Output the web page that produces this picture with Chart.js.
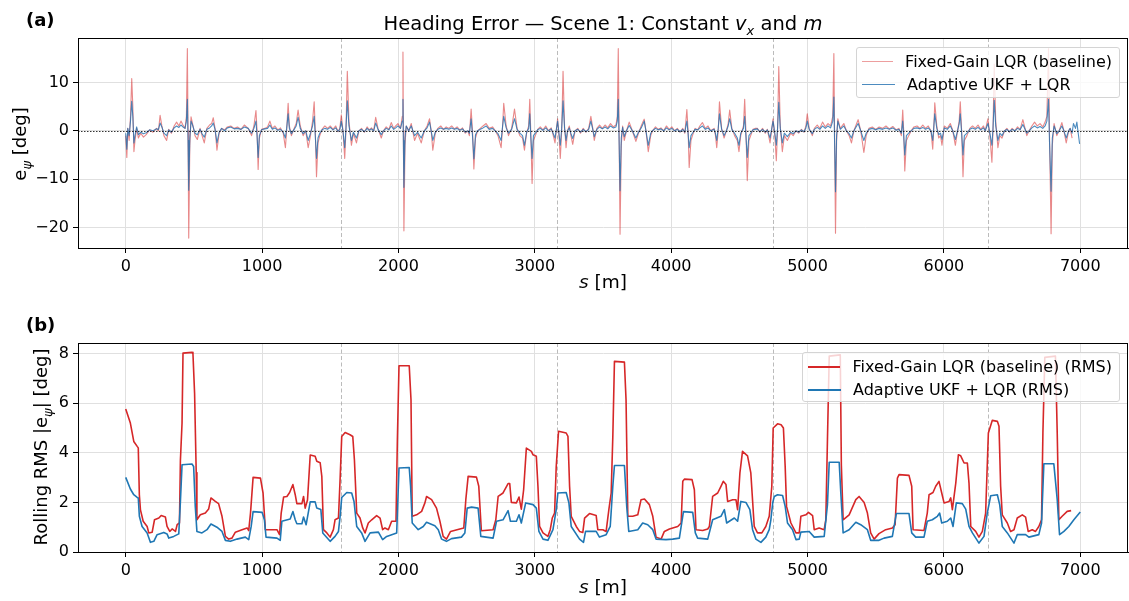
<!DOCTYPE html>
<html lang="en">
<head>
<meta charset="UTF-8">
<title>Heading Error — Scene 1</title>
<script src="https://cdn.jsdelivr.net/npm/chart.js@4.4.1/dist/chart.umd.min.js"></script>
<style>
  html, body { margin: 0; padding: 0; background: #fff; }
  body { width: 1129px; height: 601px; position: relative; overflow: hidden;
         font-family: 'DejaVu Sans', sans-serif; color: #000; }
  canvas { position: absolute; left: 0; }
  .lbl { position: absolute; white-space: nowrap; line-height: 1; }
  .tag { font-weight: bold; font-size: 18px; }
  .title { font-size: 19.5px; transform: translateX(-50%); }
  .xlab { font-size: 18.5px; transform: translateX(-50%); }
  .ylab { font-size: 18px; transform: translate(-50%, -50%) rotate(-90deg); }
  .legend { position: absolute; background: rgba(255,255,255,0.8); border: 1px solid #d4d4d4;
            border-radius: 3px; font-size: 16px; padding: 2px 7px 2px 5px; box-sizing: border-box; }
  .legend .row { display: flex; align-items: center; height: 23px; white-space: nowrap; }
  .legend .sw { width: 33px; height: 0; margin-right: 12px; }
</style>
</head>
<body>
<canvas id="errChart" width="1129" height="300" style="top:0"></canvas>
<canvas id="rmsChart" width="1129" height="301" style="top:300px"></canvas>

<div class="lbl tag" style="left:26px; top:11px">(a)</div>
<div class="lbl title" style="left:603px; top:14px">Heading Error — Scene 1: Constant <i>v</i><sub style="font-size:13px"><i>x</i></sub> and <i>m</i></div>
<div class="lbl ylab" style="left:22px; top:144px">e<sub style="font-size:13px"><i>ψ</i></sub> [deg]</div>
<div class="lbl xlab" style="left:603px; top:273px"><i>s</i> [m]</div>
<div class="legend" style="left:856px; top:47px; width:264px; height:51px">
  <div class="row"><span class="sw" style="border-top:1.5px solid rgba(214,39,40,0.45)"></span>Fixed-Gain LQR (baseline)</div>
  <div class="row"><span class="sw" style="border-top:1.5px solid rgba(31,110,175,0.8)"></span>Adaptive UKF + LQR</div>
</div>

<div class="lbl tag" style="left:26px; top:316px">(b)</div>
<div class="lbl ylab" style="left:43px; top:447px">Rolling RMS |e<sub style="font-size:13px"><i>ψ</i></sub>| [deg]</div>
<div class="lbl xlab" style="left:603px; top:578px"><i>s</i> [m]</div>
<div class="legend" style="left:802px; top:352px; width:318px; height:50px">
  <div class="row"><span class="sw" style="border-top:2px solid #d62728"></span>Fixed-Gain LQR (baseline) (RMS)</div>
  <div class="row"><span class="sw" style="border-top:2px solid #1f77b4"></span>Adaptive UKF + LQR (RMS)</div>
</div>

<script>
// ---- data ----
const xTicks = [0, 1000, 2000, 3000, 4000, 5000, 6000, 7000];
const yTicksErr = [-20, -10, 0, 10];
const yTicksRms = [0, 2, 4, 6, 8];
const sceneMarks = [1581, 3162, 4743, 6324];

// heading error e_psi [deg] along s [m]
const sTop = [0,8,15,25,35,44,52,60,68,80,
  93,110,130,150,175,200,225,240,252,265,
  280,300,315,335,355,373,390,405,420,435,
  445,452,457,462,470,479,490,508,525,545,
  560,576,595,615,630,642,655,669,685,703,
  725,745,770,795,820,845,870,898,923,940,
  955,963,971,980,996,1020,1040,1057,1075,1094,
  1115,1135,1155,1171,1180,1191,1200,1215,1235,1250,
  1264,1280,1301,1320,1338,1355,1370,1382,1390,1399,
  1410,1423,1440,1460,1480,1500,1520,1540,1557,1570,
  1581,1593,1606,1615,1625,1637,1655,1670,1692,1710,
  1729,1750,1770,1785,1802,1818,1833,1850,1874,1890,
  1910,1930,1947,1965,1980,1996,2015,2028,2033,2036,
  2040,2048,2057,2075,2094,2118,2140,2167,2190,2210,
  2228,2240,2252,2270,2289,2310,2330,2350,2370,2390,
  2410,2430,2450,2470,2490,2509,2520,2533,2543,2553,
  2565,2580,2600,2620,2643,2665,2690,2710,2730,2753,
  2762,2772,2790,2807,2830,2851,2870,2890,2910,2924,
  2940,2955,2963,2970,2980,2990,3004,3021,3040,3060,
  3080,3100,3120,3131,3148,3167,3177,3187,3197,3207,
  3218,3229,3240,3253,3265,3278,3295,3315,3335,3355,
  3375,3395,3411,3425,3436,3455,3475,3495,3515,3535,
  3555,3575,3595,3605,3612,3618,3625,3634,3644,3656,
  3672,3692,3715,3741,3760,3780,3795,3802,3815,3832,
  3850,3863,3885,3905,3925,3945,3965,3985,4005,4025,
  4045,4065,4085,4100,4115,4124,4132,4145,4156,4175,
  4195,4210,4229,4250,4270,4290,4315,4325,4334,4345,
  4354,4370,4388,4405,4418,4429,4445,4465,4485,4497,
  4510,4530,4539,4548,4558,4570,4583,4600,4615,4632,
  4650,4670,4690,4705,4725,4747,4760,4771,4780,4789,
  4800,4815,4830,4852,4876,4895,4915,4935,4955,4974,
  4988,4998,5012,5035,5050,5071,5090,5110,5130,5150,
  5169,5185,5193,5198,5205,5213,5222,5240,5266,5285,
  5305,5322,5340,5360,5371,5390,5413,5430,5450,5475,
  5500,5525,5550,5575,5600,5625,5650,5670,5688,5698,
  5705,5713,5725,5742,5760,5780,5803,5825,5845,5865,
  5885,5905,5918,5925,5933,5948,5962,5975,5986,6003,
  6025,6047,6065,6084,6100,6112,6120,6130,6140,6150,
  6169,6190,6210,6230,6250,6270,6290,6303,6323,6337,
  6352,6360,6369,6380,6396,6410,6426,6445,6462,6480,
  6500,6520,6540,6559,6579,6595,6608,6625,6645,6665,
  6685,6705,6725,6742,6755,6767,6774,6786,6795,6808,
  6828,6845,6865,6880,6897,6915,6926,6940,6950,6965,
  6975,6985,6995];

const errBaseline = [-1,-5.5,0.5,-2,3,10.8,5,-4.3,-2,0.5,
  -1.5,-0.5,-1.3,-0.8,0.2,-0.3,0.5,0,3.2,1,
  -1,-2,0.3,-0.5,1,1.8,1,2,1.2,0.5,
  3,17,0,-22.2,-3,2.9,1.5,-1,-1.8,0.5,
  -1,-2.5,0.5,1.2,1.5,2.7,0.5,-4,-0.5,0.5,
  0.2,0.8,1,0.5,0.8,0.3,1.2,0.5,-1,1,
  4.2,0,-8,-1.5,0.3,0.5,0.8,2,0.5,1,
  0.2,0.6,-0.5,-3.5,0,5.7,1,-1,0.5,1.5,
  4.3,1,-1,0,-3.5,-1,2,6,0,-9.5,
  -2.5,-1,0.3,1,0.5,1,0.3,1,-0.2,0.5,
  3.3,0,-5.7,0,12.3,2,-3,-0.5,-2.5,0,
  0.5,-0.3,0.8,0.2,0.6,0,2.8,0.5,-1.5,0,
  0.8,0.3,1.7,0.5,1,1.5,0.5,3,16.3,0,
  -20.7,-3,1,0,1.5,-2,-0.5,-2.5,0,1,
  2.5,0,-4,-0.5,0.5,1,0.3,0.8,0.5,1,
  0.4,0.8,0.2,0.6,-0.5,0,-1,4.5,0,-7.9,
  -1.5,0,0.5,1,1.5,0.5,0.8,0,-1,-3.5,
  0,5.7,1,-1,0.5,4.5,0.5,-1,-1.5,-4,
  -0.5,1,6.5,0,-10.9,-2,-1,0.3,0.8,0.2,
  1,0,0.6,-0.5,-2.5,2.5,-1,-5.7,0,12.3,
  1,-3.5,0,1,-1,-2.8,0,0.5,-0.5,0.5,
  -0.3,0.5,3,0.5,-2,0.5,1.2,0.5,1.2,0.6,
  1.5,0.8,1.2,3,17,0,-21.4,-3,1,-2,
  0,1.8,0,-2.2,-0.5,1,2,2.4,0,-4.3,
  -1,0,0.8,0.3,0.6,0,1,0.3,0.8,0,
  0.5,-0.3,0.5,-0.5,4.4,0,-7.6,-2,-1,0.5,
  0.2,1,1.7,0.5,1,0,0.5,-1,-3.5,0,
  6,0.5,-1.5,0,1.5,4.3,0.5,-1,-2,-4.3,
  -1,1,6.5,0,-10.3,-2,-1,0.3,0.5,0.5,
  -0.3,0.5,-0.5,0.3,-2.5,2.5,-1,-6.2,0,13.3,
  1,-4.3,-1,-2,-0.5,-1,0,-0.5,0.3,-0.3,
  1,3.5,0.5,-1,0.5,1.2,0.5,1.8,0.8,1.5,
  1,3,16,0,-21.2,-2,2.5,0.5,1.5,0,
  -1,-2.5,0,1.5,2.3,0,-4.5,-1,0.5,0.8,
  0.3,0.8,0.5,1,0.4,0.9,0.2,0.5,-1,4.3,
  0,-8.3,-2,-1,0,0.8,1,0.5,1.2,0.5,
  1,0,-3.8,0,5.8,1,-1.5,-1,-3,1,
  0.5,1.5,0,-3,0,2,6,0,-9.5,-2,
  -1,0.5,1,0.5,1.2,0.3,1,0,2.5,-1,
  -6.5,0,13.8,2,-3.5,-1,-1.5,0,0.5,-0.3,
  0.5,0,0.8,0.3,2.3,0.5,-1,0,1,1.8,
  1,1.5,0.8,1.8,3,17,0,-21.3,-3,1.5,
  -1,0,1.7,0,-2.5,0,0.5,-1.5,null,null,
  null,null,null];

const errAdaptive = [-0.5,-3.8,0.5,-1,2,6.1,3,-2.5,-1,0.8,
  -0.8,-0.3,-0.6,-0.4,0.2,0,0.4,0.3,1.6,0.8,
  -0.5,-1,0.2,-0.3,0.6,1,0.7,1.2,0.8,0.5,
  2,6.5,-2,-12.3,-1.5,2,1.2,-0.5,-0.8,0.3,
  -0.6,-1.3,0.3,0.6,1,1.6,0.3,-2.5,-0.3,0.5,
  0,0.6,0.8,0.4,0.5,0.3,0.8,0.5,-0.5,0.5,
  2,-1,-5.5,-1,0.2,0.4,0.5,1.2,0.3,0.6,
  0.1,0.3,-0.3,-1.5,0.5,3.5,0.5,-0.6,0.3,1,
  2.8,0.5,-0.6,0,-2,-0.5,1,3,-1,-5.7,
  -1.5,-0.5,0.2,0.5,0.3,0.7,0.2,0.6,-0.1,0.3,
  2,0,-3.5,0.5,6.2,1,-2,-0.3,-1.5,0,
  0.3,-0.2,0.5,0.1,0.4,0,1.6,0.3,-0.8,0,
  0.5,0.2,1,0.3,0.6,1,0.5,2,6.5,-2,
  -11.7,-1.5,1,0,1,-1,-0.3,-1.5,0,0.6,
  1.8,0,-2,-0.3,0.3,0.6,0.3,0.5,0.3,0.6,
  0.3,0.5,0.1,0.4,-0.3,0,-0.5,2.5,-1,-5.8,
  -0.8,0,0.3,0.6,1,0.3,0.5,0,-0.6,-2,
  0.5,3,0.6,-0.5,0.3,2.5,0.3,-0.5,-1,-3,
  -0.3,0.5,3.5,-1,-5.7,-1,-0.5,0.2,0.5,0.1,
  0.6,0,0.4,-0.3,-1.5,2,-0.5,-3,0.5,6.2,
  0.5,-2,0,0.6,-0.6,-1.6,0,0.3,-0.3,0.3,
  -0.2,0.3,2,0.3,-1.2,0.3,0.8,0.4,0.8,0.4,
  1,0.6,0.8,2,6.5,-2,-12.4,-1.5,0.7,-1.2,
  0,1.1,0,-1.5,-0.3,0.6,1.5,2,0,-3,
  -0.5,0,0.5,0.2,0.4,0,0.6,0.2,0.5,0,
  0.3,-0.2,0.3,-0.3,2,-0.5,-3.5,-1,-0.5,0.3,
  0.2,0.6,1,0.3,0.6,0,0.3,-0.6,-2,0.5,
  3.5,0.3,-1,0,1,2.5,0.3,-0.5,-1.5,-3,
  -0.5,0.5,3,-1,-5.5,-1,-0.5,0.2,0.3,0.4,
  -0.2,0.3,-0.3,0.2,-1.5,2,-0.5,-3,0.5,5.9,
  0.5,-2.5,-0.5,-1.2,-0.3,-0.6,0,-0.3,0.2,-0.2,
  0.6,2,0.3,-0.6,0.3,0.7,0.3,1,0.5,1,
  0.6,2,7,-2,-12.6,-1,2,0.3,1,0,
  -0.6,-1.5,0,1,1.5,0,-2,-0.5,0.3,0.5,
  0.2,0.5,0.3,0.6,0.3,0.6,0.1,0.3,-0.5,2,
  -1,-5,-1,-0.5,0,0.5,0.6,0.4,0.7,0.3,
  0.6,0,-2,0.5,3.5,0.5,-0.8,-0.5,-1.8,0.6,
  0.3,1,0,-1.8,0,1.5,3.5,-0.5,-5,-1,
  -0.5,0.3,0.6,0.3,0.7,0.2,0.6,0,1.5,-0.5,
  -3,0.5,6.3,1,-2,-0.5,-1,0,0.3,-0.2,
  0.3,0,0.5,0.2,1.3,0.3,-0.5,0,0.6,1,
  0.6,0.9,0.5,1,2,6.5,-2,-12.5,-1.5,1,
  -0.6,0,1,0,-1.5,0,0.5,-0.5,1.5,0.5,
  1.8,-0.5,-2.7];

// rolling RMS |e_psi| [deg], [s, value]
const rmsBaseline = [[0,5.77],[34,5.2],[59,4.46],[84,4.26],[92,4.2],[100,2.3],[108,1.7],[128,1.24],[157,1.03],[169,0.77],
  [194,0.8],[211,1.3],[243,1.37],[260,1.47],[291,1.41],[303,1.03],[323,0.83],[340,0.93],[365,0.83],[377,1.1],
  [394,1.17],[401,3.7],[413,5.2],[420,8.02],[486,8.05],[493,8.0],[505,6.4],[517,3.2],[522,1.3],[547,1.5],
  [584,1.57],[608,1.73],[625,2.18],[657,2.04],[681,1.95],[706,1.44],[731,0.63],[755,0.52],[779,0.56],[804,0.8],
  [853,0.9],[890,0.97],[902,0.86],[915,1.57],[934,3.01],[988,2.98],[1007,2.38],[1024,0.9],[1109,0.9],[1128,0.7],
  [1140,1.57],[1158,2.22],[1182,2.24],[1202,2.4],[1226,2.72],[1243,2.31],[1255,1.95],[1292,1.95],[1304,2.24],[1316,1.77],
  [1333,2.1],[1353,3.91],[1389,3.86],[1401,3.66],[1426,3.6],[1438,3.05],[1450,0.9],[1475,0.77],[1499,0.6],[1523,0.9],
  [1535,1.3],[1560,1.37],[1572,2.92],[1584,4.66],[1609,4.82],[1645,4.73],[1665,4.66],[1677,3.72],[1694,1.57],[1718,1.37],
  [1738,0.97],[1755,0.77],[1779,1.17],[1804,1.3],[1840,1.47],[1865,1.37],[1884,0.9],[1901,0.97],[1926,0.9],[1950,1.24],
  [1982,1.24],[1992,4.5],[2004,7.51],[2079,7.51],[2092,6.14],[2101,1.44],[2133,1.5],[2170,1.64],[2194,1.98],[2206,2.24],
  [2243,2.11],[2279,1.77],[2304,1.24],[2328,0.63],[2352,0.52],[2382,0.83],[2450,0.93],[2479,0.97],[2494,2.11],[2511,3.05],
  [2572,3.02],[2589,2.65],[2608,0.86],[2694,0.9],[2714,1.3],[2731,2.24],[2767,2.38],[2804,2.76],[2816,2.76],[2828,2.0],
  [2865,1.98],[2884,2.22],[2901,1.73],[2918,2.51],[2938,4.19],[2975,4.06],[2987,3.92],[3011,3.86],[3023,2.65],[3035,1.03],
  [3060,0.77],[3096,0.63],[3113,0.9],[3128,1.37],[3145,1.57],[3157,3.45],[3174,4.87],[3230,4.8],[3243,4.66],[3255,2.65],
  [3267,1.44],[3304,1.03],[3328,0.83],[3352,0.79],[3365,1.37],[3401,1.55],[3450,1.47],[3462,0.9],[3499,0.9],[3523,0.83],
  [3543,1.71],[3560,2.38],[3572,4.66],[3584,7.69],[3657,7.66],[3669,6.14],[3682,1.44],[3718,1.44],[3755,1.5],[3779,2.11],
  [3804,2.14],[3840,1.91],[3865,1.44],[3889,0.6],[3926,0.52],[3950,0.83],[3987,0.93],[4048,1.03],[4073,1.17],[4085,2.85],
  [4097,2.94],[4153,2.92],[4170,2.51],[4182,0.9],[4231,0.87],[4268,0.93],[4280,1.03],[4304,2.24],[4341,2.38],[4365,2.65],
  [4382,2.85],[4402,2.72],[4414,2.04],[4451,2.11],[4475,2.11],[4487,1.71],[4504,3.19],[4523,4.06],[4560,3.88],[4584,3.19],
  [4609,1.03],[4633,0.77],[4665,0.77],[4694,1.03],[4719,1.44],[4738,2.65],[4748,5.0],[4780,5.17],[4806,5.13],[4823,5.0],
  [4836,3.45],[4846,1.84],[4878,1.17],[4915,0.77],[4939,0.77],[4951,1.44],[4988,1.5],[5007,1.6],[5037,1.47],[5049,0.9],
  [5085,0.97],[5122,0.9],[5134,1.3],[5146,4.53],[5159,7.9],[5240,7.95],[5248,3.5],[5261,1.3],[5305,1.5],[5354,2.11],
  [5378,2.24],[5415,2.0],[5439,1.57],[5463,0.77],[5488,0.52],[5524,0.74],[5573,0.9],[5622,0.97],[5642,1.1],[5659,2.98],
  [5671,3.12],[5744,3.09],[5764,2.65],[5774,0.9],[5854,0.87],[5878,1.57],[5891,2.31],[5920,2.4],[5940,2.65],[5964,2.85],
  [5984,2.38],[6001,1.98],[6038,2.04],[6050,2.18],[6062,1.71],[6087,2.78],[6106,3.92],[6123,3.88],[6148,3.59],[6172,3.59],
  [6184,2.78],[6197,1.03],[6233,0.83],[6257,0.6],[6282,0.83],[6306,1.57],[6326,4.8],[6355,5.31],[6392,5.27],[6404,5.07],
  [6416,2.65],[6428,1.5],[6465,1.17],[6489,0.83],[6514,0.9],[6538,1.37],[6575,1.5],[6599,1.41],[6618,0.83],[6648,0.9],
  [6672,0.83],[6696,1.03],[6716,1.3],[6726,4.8],[6740,7.85],[6818,7.9],[6831,4.8],[6843,1.3],[6867,1.44],[6904,1.64],
  [6933,1.67]];

const rmsAdaptive = [[0,3.01],[34,2.54],[59,2.31],[84,2.2],[92,2.18],[100,1.44],[120,1.03],[157,0.77],[181,0.39],[206,0.43],
  [230,0.7],[279,0.79],[303,0.73],[316,0.56],[352,0.63],[389,0.73],[401,2.04],[413,3.52],[486,3.55],[498,3.45],
  [510,1.84],[522,0.83],[559,0.77],[596,0.9],[625,1.13],[669,1.0],[706,0.83],[731,0.47],[767,0.43],[816,0.52],
  [877,0.6],[902,0.5],[920,1.03],[934,1.63],[1000,1.6],[1017,1.3],[1029,0.6],[1109,0.56],[1133,0.47],[1145,1.24],
  [1206,1.33],[1226,1.63],[1243,1.3],[1255,1.14],[1292,1.14],[1304,1.41],[1323,1.1],[1353,2.02],[1389,2.02],[1401,1.77],
  [1431,1.71],[1445,0.77],[1499,0.43],[1535,0.63],[1560,0.83],[1572,1.44],[1584,2.2],[1621,2.4],[1657,2.38],[1674,2.04],
  [1694,1.03],[1730,0.77],[1755,0.43],[1792,0.77],[1853,0.8],[1884,0.5],[1914,0.63],[1987,0.77],[2004,3.39],[2079,3.41],
  [2089,2.65],[2101,1.17],[2145,0.9],[2182,1.03],[2206,1.2],[2267,1.06],[2292,0.9],[2316,0.52],[2352,0.43],[2389,0.54],
  [2462,0.6],[2487,0.77],[2504,1.77],[2536,1.81],[2584,1.77],[2604,0.63],[2694,0.56],[2719,1.24],[2767,1.3],[2804,1.67],
  [2821,1.24],[2865,1.24],[2884,1.5],[2901,1.17],[2933,1.98],[2987,1.91],[3011,1.77],[3030,0.83],[3060,0.52],[3096,0.47],
  [3133,0.9],[3157,1.71],[3169,2.38],[3230,2.4],[3250,1.98],[3267,1.03],[3328,0.52],[3357,0.39],[3372,0.83],[3450,0.83],
  [3474,0.6],[3523,0.7],[3553,1.03],[3572,2.65],[3584,3.49],[3657,3.49],[3674,1.84],[3689,0.83],[3755,0.9],[3791,1.17],
  [3828,1.1],[3865,0.9],[3889,0.52],[3962,0.5],[4011,0.52],[4060,0.56],[4090,1.63],[4158,1.6],[4177,0.77],[4194,0.56],
  [4268,0.52],[4304,1.3],[4365,1.44],[4390,1.71],[4407,1.17],[4463,1.37],[4487,1.24],[4511,2.04],[4548,2.0],[4577,1.71],
  [4597,0.9],[4621,0.52],[4658,0.39],[4694,0.6],[4719,0.9],[4731,1.3],[4745,2.0],[4756,2.24],[4780,2.31],[4817,2.28],
  [4836,1.84],[4853,1.17],[4890,0.9],[4915,0.5],[4939,0.52],[4951,0.8],[5012,0.83],[5049,0.6],[5122,0.63],[5146,1.91],
  [5159,3.62],[5232,3.62],[5244,2.38],[5261,0.77],[5305,0.9],[5354,1.2],[5390,1.1],[5439,0.9],[5463,0.47],[5524,0.47],
  [5561,0.56],[5622,0.63],[5651,1.55],[5744,1.55],[5764,0.77],[5793,0.6],[5854,0.6],[5878,1.24],[5915,1.3],[5952,1.44],
  [5969,1.57],[5984,1.17],[6025,1.24],[6050,1.37],[6067,1.03],[6091,1.98],[6135,1.95],[6160,1.73],[6184,1.03],[6209,0.77],
  [6257,0.36],[6294,0.63],[6318,1.57],[6343,2.27],[6392,2.31],[6409,1.91],[6428,1.03],[6465,0.77],[6514,0.36],[6538,0.7],
  [6599,0.7],[6623,0.6],[6696,0.7],[6716,1.17],[6733,3.56],[6806,3.56],[6831,2.11],[6848,0.7],[6880,0.83],[6916,1.03],
  [6953,1.3],[7000,1.61]];

// ---- chart helpers ----
const FONT = 'DejaVu Sans';
const gridColor = '#e0e0e0';

function fmt(v) { return v < 0 ? '\u2212' + Math.abs(v) : String(v); }

const guides = {
  id: 'guides',
  beforeDatasetsDraw(chart) {
    const { ctx, chartArea: a, scales: { x } } = chart;
    ctx.save();
    ctx.strokeStyle = 'rgba(150,150,150,0.65)';
    ctx.lineWidth = 1;
    ctx.setLineDash([4, 2.5]);
    sceneMarks.forEach(s => {
      const px = Math.round(x.getPixelForValue(s)) + 0.5;
      ctx.beginPath(); ctx.moveTo(px, a.top); ctx.lineTo(px, a.bottom); ctx.stroke();
    });
    ctx.restore();
  },
  afterDatasetsDraw(chart, args, opts) {
    if (!opts.zero) return;
    const { ctx, chartArea: a, scales: { y } } = chart;
    const py = Math.round(y.getPixelForValue(0)) + 0.5;
    ctx.save();
    ctx.strokeStyle = 'rgba(0,0,0,0.8)';
    ctx.lineWidth = 1.2;
    ctx.setLineDash([1.5, 1.5]);
    ctx.beginPath(); ctx.moveTo(a.left, py); ctx.lineTo(a.right, py); ctx.stroke();
    ctx.restore();
  },
  afterDraw(chart) {
    const { ctx, chartArea: a } = chart;
    ctx.save();
    ctx.strokeStyle = '#000';
    ctx.lineWidth = 1;
    ctx.strokeRect(Math.round(a.left) + 0.5, Math.round(a.top) + 0.5,
                   Math.round(a.right - a.left) - 1, Math.round(a.bottom - a.top));
    ctx.restore();
  }
};

function axisOpts(ticks, min, max, fit) {
  return {
    type: 'linear', min, max,
    afterBuildTicks: s => { s.ticks = ticks.map(v => ({ value: v })); },
    afterFit: fit,
    grid: { color: gridColor, lineWidth: 1, drawTicks: true, tickLength: 5, tickColor: '#000' },
    border: { display: true, color: '#000', width: 1 },
    ticks: { font: { family: FONT, size: 16 }, color: '#000', padding: 4,
             maxRotation: 0, autoSkip: false, callback: v => fmt(v) }
  };
}

function makeChart(id, datasets, yTicks, yMin, yMax, padTop, xAxisH, zero) {
  return new Chart(document.getElementById(id), {
    type: 'line',
    data: { datasets },
    options: {
      responsive: false, animation: false, devicePixelRatio: 1,
      parsing: false, normalized: true,
      layout: { padding: { top: padTop, left: 0, right: 1, bottom: 0 } },
      elements: { point: { radius: 0 }, line: { tension: 0, borderJoinStyle: 'round', fill: false } },
      plugins: { legend: { display: false }, tooltip: { enabled: false }, guides: { zero } },
      scales: {
        x: axisOpts(xTicks, -350, 7350, s => { s.height = xAxisH; }),
        y: axisOpts(yTicks, yMin, yMax, s => { s.width = 78; })
      }
    },
    plugins: [guides]
  });
}

const toXY = (xs, ys) => xs.map((s, i) => ({ x: s, y: ys[i] }));
const pairs = arr => arr.map(p => ({ x: p[0], y: p[1] }));

makeChart('errChart', [
  { label: 'Adaptive UKF + LQR', data: toXY(sTop, errAdaptive),
    borderColor: 'rgba(31,110,175,0.8)', borderWidth: 1.1, order: 0 },
  { label: 'Fixed-Gain LQR (baseline)', data: toXY(sTop, errBaseline),
    borderColor: 'rgba(214,39,40,0.55)', borderWidth: 1.1, order: 1 }
], yTicksErr, -24.25, 19.2, 38, 52, true);

makeChart('rmsChart', [
  { label: 'Adaptive UKF + LQR (RMS)', data: pairs(rmsAdaptive),
    borderColor: '#1f77b4', borderWidth: 1.6, order: 0 },
  { label: 'Fixed-Gain LQR (baseline) (RMS)', data: pairs(rmsBaseline),
    borderColor: '#d62728', borderWidth: 1.6, order: 1 }
], yTicksRms, 0, 8.43, 43, 49, false);
</script>
</body>
</html>
